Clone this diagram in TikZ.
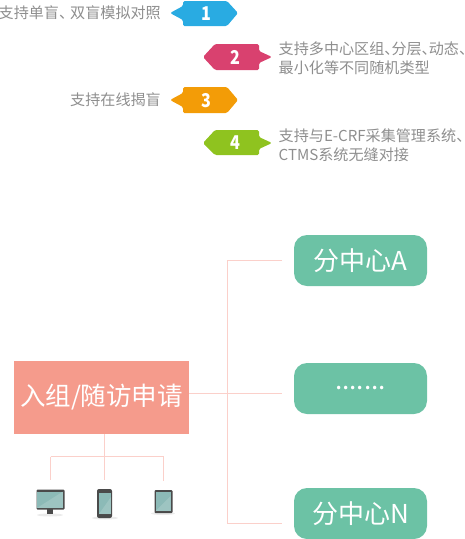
\documentclass[tikz,border=0pt]{standalone}
\usepackage{fontspec}
\setmainfont{Noto Sans CJK SC}
\usepackage{xcolor}
\definecolor{softgrey}{RGB}{142,142,142}
\definecolor{skyblue}{RGB}{41,171,226}
\definecolor{rosered}{RGB}{217,65,111}
\definecolor{amber}{RGB}{243,156,7}
\definecolor{leafgreen}{RGB}{143,195,31}
\definecolor{mintbox}{RGB}{108,194,165}
\definecolor{salmon}{RGB}{245,155,140}
\definecolor{linkpink}{RGB}{251,208,202}
\definecolor{screenteal}{RGB}{140,186,183}
\definecolor{devicedark}{RGB}{74,74,74}
\newcommand{\dun}{、\kern-8pt}
\newcommand{\dunend}{、\kern-10.5pt}
\tikzset{
  notetext/.style={text=softgrey, inner sep=0pt, font=\fontsize{15.1}{18.6}\selectfont},
  badgenum/.style={text=white, inner sep=0pt, xscale=.85, font=\fontsize{19}{19}\selectfont\bfseries},
  centerbox/.style={fill=mintbox, text=white, rounded corners=13pt, minimum width=133pt, minimum height=51pt, inner sep=0pt, font=\fontsize{26}{26}\selectfont},
  applybox/.style={fill=salmon, text=white, minimum width=175pt, minimum height=73pt, inner sep=0pt, font=\fontsize{25.5}{25.5}\selectfont},
  linkline/.style={draw=linkpink, line width=1pt},
  devicebox/.style={fill=devicedark, inner sep=0pt, rounded corners=1pt}
}
\begin{document}
\begin{tikzpicture}[x=1pt, y=-1pt]
  \useasboundingbox (0,0) rectangle (465,539);
  % Numbered badges
  \fill[skyblue, rounded corners=1.5pt] (170,13) -- (183,6) -- (183,1) -- (227,1) -- (238,13) -- (227,26) -- (183,26) -- (183,20) -- cycle;
  \node[badgenum] (one) at (206,13.5) {1};
  \fill[rosered, rounded corners=1.5pt] (203,57) -- (215,44) -- (259,44) -- (259,51) -- (272,57) -- (259,63) -- (259,70) -- (215,70) -- cycle;
  \node[badgenum] (two) at (235,57) {2};
  \fill[amber, rounded corners=1.5pt] (170,100) -- (183,93) -- (183,87) -- (227,87) -- (238,100) -- (227,113) -- (183,113) -- (183,107) -- cycle;
  \node[badgenum] (three) at (206,100.5) {3};
  \fill[leafgreen, rounded corners=1.5pt] (203,143) -- (215,130) -- (259,130) -- (259,137) -- (272,143) -- (259,149) -- (259,155) -- (215,155) -- cycle;
  \node[badgenum] (four) at (235,143) {4};
  % Notes beside the badges
  \node[notetext, anchor=east] (noteone) at (161,13) {支持单盲、\kern-4pt双盲模拟对照};
  \node[notetext, anchor=west, align=left] (notetwo) at (278.5,58) {支持多中心区组\dun 分层\dun 动态\dunend\\最小化等不同随机类型};
  \node[notetext, anchor=east] (notethree) at (161,100) {支持在线揭盲};
  \node[notetext, anchor=west, align=left] (notefour) at (278.5,145) {支持与E-CRF采集管理系统\dunend\\CTMS系统无缝对接};
  % Boxes
  \node[applybox] (apply) at (101.5,397.5) {入组/随访申请};
  \node[centerbox] (centerA) at (360.5,260.5) {分中心A};
  \node[centerbox] (centerD) at (360.5,388.5) {\raisebox{-2.5pt}{.......}};
  \node[centerbox] (centerN) at (360.5,513.5) {分中心N};
  % Right hand tree
  \coordinate (trunk) at (227.5,393.5);
  \coordinate (endA) at (282,260.5);
  \coordinate (endD) at (282,393.5);
  \coordinate (endN) at (282,523.5);
  \draw[linkline] (apply.east |- trunk) -- (endD);
  \draw[linkline] (endA) -- (trunk |- endA) -- (trunk |- endN) -- (endN);
  % Devices
  \fill[black!8] (50,515) ellipse (13 and 1.5);
  \fill[black!8] (105,518) ellipse (13 and 1.5);
  \fill[black!8] (163,513.5) ellipse (12 and 1.5);
  \node[devicebox, minimum width=28pt, minimum height=20pt] (monitor) at (50.5,499.5) {};
  \fill[devicedark] (47,509) rectangle (53,514);
  \fill[screenteal] (37,491.5) rectangle (63,508);
  \fill[white, opacity=.15] (37,508) -- (63,491.5) -- (63,508) -- cycle;
  \node[devicebox, minimum width=15pt, minimum height=29pt, rounded corners=2pt] (phone) at (104.5,503.5) {};
  \fill[screenteal] (99,493) rectangle (111,514);
  \fill[white, opacity=.15] (99,514) -- (111,497) -- (111,514) -- cycle;
  \node[devicebox, minimum width=18pt, minimum height=23pt] (tablet) at (163.5,501.5) {};
  \fill[screenteal] (155.5,492) rectangle (170.5,511);
  \fill[white, opacity=.15] (155.5,511) -- (170.5,496) -- (170.5,511) -- cycle;
  % Device tree
  \coordinate (join) at (104.5,456.5);
  \draw[linkline, shorten >=9pt] (apply.south -| phone.north) -- (phone.north);
  \draw[linkline, shorten >=9pt] (monitor.north |- join) -- (monitor.north);
  \draw[linkline, shorten >=9pt] (tablet.north |- join) -- (tablet.north);
  \draw[linkline] (monitor.north |- join) -- (tablet.north |- join);
\end{tikzpicture}
\end{document}
